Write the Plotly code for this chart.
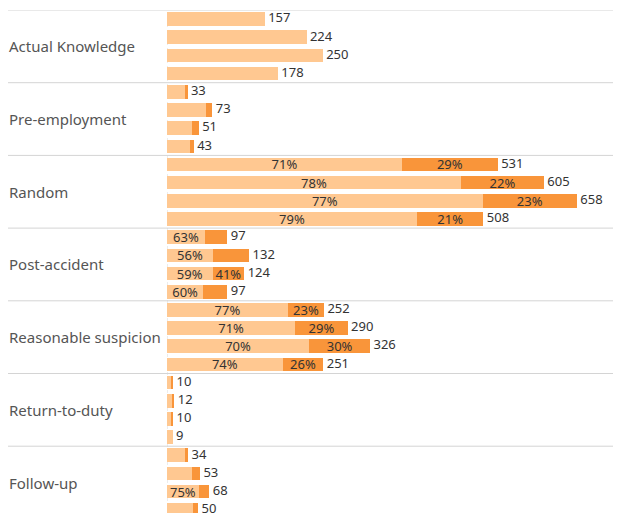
import plotly.graph_objects as go

# test reasons, four periods each
reasons = ['Actual Knowledge', 'Pre-employment', 'Random', 'Post-accident',
           'Reasonable suspicion', 'Return-to-duty', 'Follow-up']
periods = ['P1', 'P2', 'P3', 'P4']

totals = [
    [157, 224, 250, 178],
    [33, 73, 51, 43],
    [531, 605, 658, 508],
    [97, 132, 124, 97],
    [252, 290, 326, 251],
    [10, 12, 10, 9],
    [34, 53, 68, 50],
]
# share of the light segment (%)
light_pct = [
    [100, 100, 100, 100],
    [91, 86, 80, 86],
    [71, 78, 77, 79],
    [63, 56, 59, 60],
    [77, 71, 70, 74],
    [75, 80, 80, 100],
    [86, 75, 75, 82],
]
# which segments carry a % label
show_light = [
    [0, 0, 0, 0],
    [0, 0, 0, 0],
    [1, 1, 1, 1],
    [1, 1, 1, 1],
    [1, 1, 1, 1],
    [0, 0, 0, 0],
    [0, 0, 1, 0],
]
show_dark = [
    [0, 0, 0, 0],
    [0, 0, 0, 0],
    [1, 1, 1, 1],
    [0, 0, 1, 0],
    [1, 1, 1, 1],
    [0, 0, 0, 0],
    [0, 0, 0, 0],
]

LIGHT = '#FFC891'
DARK = '#F9953A'
FONT = 'Noto Sans'

ycats, light_x, dark_x, tot_x, light_txt, dark_txt = [], [], [], [], [], []
for i, r in enumerate(reasons):
    for j, p in enumerate(periods):
        t = totals[i][j]
        lp = light_pct[i][j]
        lv = t * lp / 100
        ycats.append(r + '|' + p)
        light_x.append(lv)
        dark_x.append(t - lv)
        tot_x.append(t)
        light_txt.append(f'{lp}%' if show_light[i][j] else '')
        dark_txt.append(f'{100 - lp}%' if show_dark[i][j] else '')

fig = go.Figure()
fig.add_trace(go.Bar(
    y=ycats, x=light_x, orientation='h', marker=dict(color=LIGHT, line_width=0),
    text=light_txt, textposition='inside', insidetextanchor='middle', constraintext='none',
    textfont=dict(color='#333333', size=13, family=FONT), hoverinfo='skip'))
fig.add_trace(go.Bar(
    y=ycats, x=dark_x, orientation='h', marker=dict(color=DARK, line_width=0),
    text=dark_txt, textposition='inside', insidetextanchor='middle', constraintext='none',
    textfont=dict(color='#333333', size=13, family=FONT), hoverinfo='skip'))
fig.add_trace(go.Scatter(
    y=ycats, x=tot_x, mode='text', text=[' ' + str(v) for v in tot_x],
    textposition='middle right', textfont=dict(color='#333333', size=13, family=FONT),
    cliponaxis=False, hoverinfo='skip'))

# page is drawn 8px in from the window corner
ML, MT = 159, 2
W, H = 613, 505
plot_w = W - ML
plot_h = H - MT
unit = 72.7 / 4  # px per bar slot

fig.update_layout(
    width=W, height=H, barmode='stack', bargap=0.25, showlegend=False,
    plot_bgcolor='white', paper_bgcolor='white',
    margin=dict(l=ML, r=0, t=MT, b=0),
    xaxis=dict(range=[0, plot_w / 0.623], visible=False),
    yaxis=dict(categoryorder='array', categoryarray=ycats,
               range=[-0.5 + plot_h / unit, -0.5], visible=False),
    font=dict(family=FONT),
)

# group separators and labels
for k, r in enumerate(reasons):
    fig.add_shape(type='line', xref='paper', yref='y',
                  x0=-(ML - 4 + 8) / plot_w, x1=1, y0=4 * k - 0.5, y1=4 * k - 0.5,
                  line=dict(color='#d4d4d4', width=1))
    fig.add_annotation(xref='paper', yref='y', x=-(ML + 1) / plot_w, y=4 * k + 1.5,
                       text=r, showarrow=False, xanchor='left',
                       font=dict(size=15, color='#555555', family=FONT))
fig.add_shape(type='line', xref='x', yref='paper', x0=0, x1=0, y0=0, y1=1,
              line=dict(color='#d9d9d9', width=1, dash='dot'), layer='below')

fig.write_html('out.html')
